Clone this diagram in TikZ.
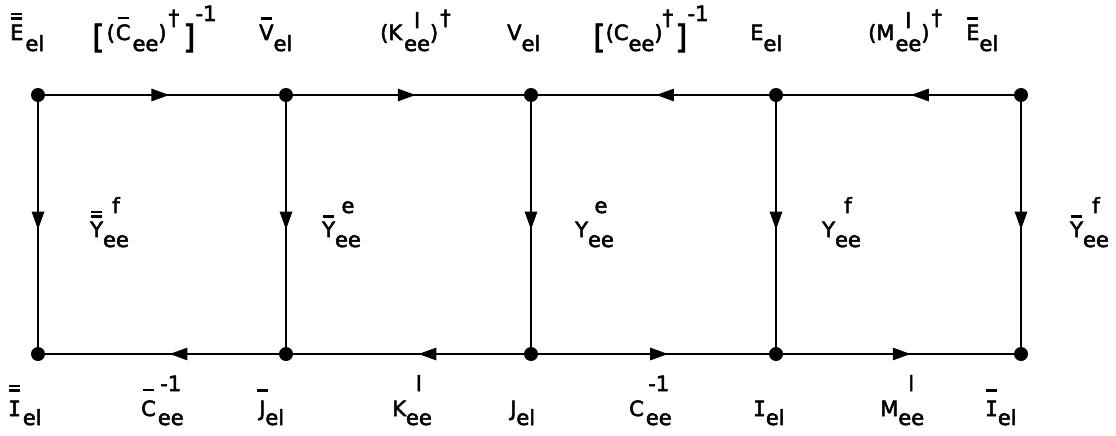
\documentclass[tikz,border=0pt]{standalone}
\usepackage{fontspec}
\setmainfont{DejaVu Sans}[FakeBold=2.5]
\newfontfamily\serI{DejaVu Sans Mono}[FakeBold=2.5]
\usetikzlibrary{decorations.markings,arrows.meta}
\newlength\lodrop \newlength\hiraise \newlength\bargap \newlength\barw
\setlength\lodrop{10pt}\setlength\hiraise{20pt}\setlength\bargap{5pt}
\newcommand\Lo[1]{\raisebox{-\lodrop}{#1}}
\newcommand\Hi[2][\hiraise]{\raisebox{#1}{#2}}
\newcommand\Barline{\hbox to\wd0{\hss\vrule width \barw height 2.2pt depth 0pt\hss}}
\newcommand\Setbar[1]{\setbox0\hbox{#1}\setlength\barw{.75\wd0}\ifdim\barw<11pt \setlength\barw{11pt}\fi}
\newcommand\Ob[1]{\Setbar{#1}\vbox{\offinterlineskip\Barline\vskip\bargap\box0}}
\newcommand\Obb[1]{\Setbar{#1}\vbox{\offinterlineskip\Barline\vskip 2.5pt\Barline\vskip\bargap\box0}}
\newcommand\Sps[3][\hiraise]{\setbox2\hbox{#3}\rlap{\hbox to\wd2{\hss\Hi[#1]{#2}\hss}}\Lo{\box2}}
\newcommand\Brk[1]{\raisebox{-8pt}{\fontsize{32}{32}\selectfont #1}}
\newcommand\LI{{\serI I}}
\tikzset{
  edge/.style={line width=2.8pt, postaction={decorate},
    decoration={markings, mark=at position #1 with {\arrow{Triangle[length=18pt,width=12pt]}}}},
  dot/.style={circle, fill=black, inner sep=0pt, minimum size=14pt},
  lab/.style={anchor=base west, inner sep=0pt},
  toplab/.style={lab, font=\fontsize{21}{25}\selectfont\setlength\lodrop{11pt}\setlength\hiraise{15pt}\setlength\bargap{5pt}},
  midlab/.style={lab, font=\fontsize{21}{25}\selectfont\setlength\lodrop{10pt}\setlength\hiraise{24pt}\setlength\bargap{4pt}},
  botlab/.style={lab, font=\fontsize{21}{25}\selectfont\setlength\lodrop{9pt}\setlength\hiraise{25pt}\setlength\bargap{9pt}}
}
\begin{document}
\begin{tikzpicture}[x=1pt,y=-1pt]
\useasboundingbox (0,0) rectangle (1116,436);
% grid points
\coordinate (A1) at (38,95);  \coordinate (A2) at (286,95);  \coordinate (A3) at (531,95);
\coordinate (A4) at (776,95); \coordinate (A5) at (1021,95);
\coordinate (B1) at (38,354); \coordinate (B2) at (286,354); \coordinate (B3) at (531,354);
\coordinate (B4) at (776,354); \coordinate (B5) at (1021,354);
% top edges
\draw[edge=0.53] (A1) -- (A2);
\draw[edge=0.53] (A2) -- (A3);
\draw[edge=0.49] (A4) -- (A3);
\draw[edge=0.45] (A5) -- (A4);
% bottom edges
\draw[edge=0.47] (B2) -- (B1);
\draw[edge=0.46] (B3) -- (B2);
\draw[edge=0.56] (B3) -- (B4);
\draw[edge=0.55] (B4) -- (B5);
% vertical edges
\draw[edge=0.52] (A1) -- (B1);
\draw[edge=0.52] (A2) -- (B2);
\draw[edge=0.52] (A3) -- (B3);
\draw[edge=0.52] (A4) -- (B4);
\draw[edge=0.52] (A5) -- (B5);
% dots
\foreach \p in {A1,A2,A3,A4,A5,B1,B2,B3,B4,B5} \node[dot] (d\p) at (\p) {};
% top labels
\node[toplab] (t1) at (10,40) {\Obb{E}\hspace{2pt}\Lo{el}};
\node[toplab] (t2) at (92,40) {\Brk{[}\hspace{2pt}(\hspace{1pt}\Ob{C}\hspace{2pt}\Lo{ee})\hspace{2pt}\Hi{†}\hspace{4pt}\Brk{]}\Hi[19pt]{-1}};
\node[toplab] (t3) at (259,40) {\Ob{V}\Lo{el}};
\node[toplab] (t4) at (380,40) {(K\hspace{2pt}\Sps[12pt]{l}{ee})\hspace{2pt}\Hi{†}};
\node[toplab] (t5) at (507,40) {V\Lo{el}};
\node[toplab] (t6) at (593,40) {\Brk{[}(C\Lo{ee})\Hi{†}\hspace{2pt}\Brk{]}\Hi[19pt]{-1}};
\node[toplab] (t7) at (750,40) {E\Lo{el}};
\node[toplab] (t8) at (868,40) {(M\hspace{1pt}\Sps[12pt]{l}{ee})\hspace{2pt}\Hi{†}};
\node[toplab] (t9) at (966,40) {\Ob{E}\Lo{el}};
% middle labels
\node[midlab] (m1) at (90,237) {\Obb{Y}\Sps{f}{ee}};
\node[midlab] (m2) at (322,237) {\Ob{Y}\Sps{e}{ee}};
\node[midlab] (m3) at (575,237) {Y\Sps{e}{ee}};
\node[midlab] (m4) at (822,237) {Y\Sps{f}{ee}};
\node[midlab] (m5) at (1070,237) {\Ob{Y}\Sps{f}{ee}};
% bottom labels
\node[botlab] (b1) at (8,416) {\Obb{\LI}\hspace{2pt}\Lo{el}};
\node[botlab] (b2) at (141,416) {\Ob{C}\hspace{2pt}\Sps{-1}{ee}};
\node[botlab] (b3) at (259,416) {\Ob{J}\Lo{el}};
\node[botlab] (b4) at (392,416) {K\Sps{l}{ee}};
\node[botlab] (b5) at (510,416) {J\Lo{el}};
\node[botlab] (b6) at (629,416) {C\hspace{2pt}\Sps{-1}{ee}};
\node[botlab] (b7) at (753,416) {\LI\Lo{el}};
\node[botlab] (b8) at (880,416) {M\Sps{l}{ee}};
\node[botlab] (b9) at (985,416) {\Ob{\LI}\Lo{el}};
\end{tikzpicture}
\end{document}
